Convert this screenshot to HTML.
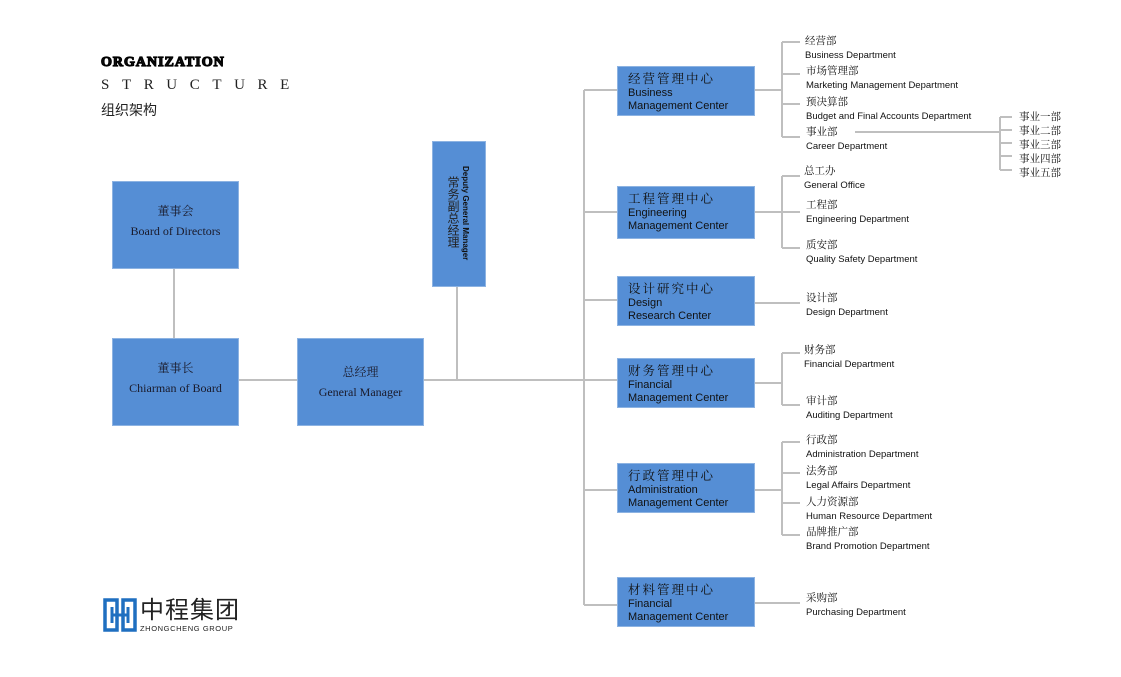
<!DOCTYPE html>
<html><head><meta charset="utf-8"><style>
body{margin:0;background:#fff;width:1121px;height:677px;overflow:hidden;position:relative;font-family:"Liberation Sans","Noto Sans CJK SC",sans-serif}
.t{position:absolute;white-space:nowrap;color:#111}
.box{position:absolute;background:#558ed5;border:1px solid #8db3e2;box-sizing:border-box}
.c{font-family:"Liberation Serif","Noto Serif CJK SC",serif;text-align:center;color:#1a1a2a;font-size:12px;line-height:20px}
.ct{position:absolute;left:10px;top:5px;font-size:11px;line-height:13px;color:#111}
.ct b{font-weight:normal;font-size:12.5px;letter-spacing:2px;font-family:"Noto Serif CJK SC",serif}
.d{position:absolute;font-size:9.5px;line-height:14px;color:#111}
.d span{font-family:"Noto Serif CJK SC",serif;font-size:10.5px}
</style></head><body>
<svg width="1121" height="677" style="position:absolute;left:0;top:0" fill="none" stroke="#bfbfbf" stroke-width="2">
<path d="M174 268V338M238 380H297M423 380H584M457 286V380"/>
<path d="M584 90V605M584 90H617M584 212H617M584 300H617M584 380H617M584 490H617M584 605H617"/>
<path d="M754 90H782M782 42V137M782 42H800M782 74H800M782 104H800M782 137H800"/>
<path d="M855 132H1000M1000 117V170M1000 117H1012M1000 130H1012M1000 143H1012M1000 156H1012M1000 170H1012"/>
<path d="M754 212H782M782 176V248M782 176H800M782 212H800M782 248H800"/>
<path d="M754 303H800"/>
<path d="M754 383H782M782 353V405M782 353H800M782 405H800"/>
<path d="M754 490H782M782 442V535M782 442H800M782 473H800M782 503H800M782 535H800"/>
<path d="M754 603H800"/>
</svg>
<div class="t" style="left:101px;top:55px;font-family:'Liberation Serif',serif;font-weight:900;font-size:14px;letter-spacing:1px;-webkit-text-stroke:1.2px #000">ORGANIZATION</div>
<div class="t" style="left:101px;top:77px;font-family:'Liberation Serif',serif;font-size:15px;letter-spacing:12.6px;color:#222">STRUCTURE</div>
<div class="t" style="left:101px;top:100px;font-size:14px;color:#222;font-family:'Noto Sans CJK SC',sans-serif">组织架构</div>

<div class="box c" style="left:112px;top:181px;width:127px;height:88px;padding-top:19px">董事会<br>Board of Directors</div>
<div class="box c" style="left:112px;top:338px;width:127px;height:88px;padding-top:19px">董事长<br>Chiarman of Board</div>
<div class="box c" style="left:297px;top:338px;width:127px;height:88px;padding-top:23px">总经理<br>General Manager</div>
<div class="box" style="left:432px;top:141px;width:54px;height:146px">
 <div style="position:absolute;left:13px;top:34px;writing-mode:vertical-rl;font-family:'Noto Sans CJK SC',sans-serif;font-size:12px;line-height:14px;color:#222">常务副总经理</div>
 <div style="position:absolute;left:27px;top:24px;writing-mode:vertical-rl;font-size:8px;font-weight:bold;line-height:10px;color:#111">Deputy General Manager</div>
</div>

<div class="box" style="left:617px;top:66px;width:138px;height:50px"><div class="ct"><b>经营管理中心</b><br>Business<br>Management Center</div></div>
<div class="box" style="left:617px;top:186px;width:138px;height:53px"><div class="ct"><b>工程管理中心</b><br>Engineering<br>Management Center</div></div>
<div class="box" style="left:617px;top:276px;width:138px;height:50px"><div class="ct"><b>设计研究中心</b><br>Design<br>Research Center</div></div>
<div class="box" style="left:617px;top:358px;width:138px;height:50px"><div class="ct"><b>财务管理中心</b><br>Financial<br>Management Center</div></div>
<div class="box" style="left:617px;top:463px;width:138px;height:50px"><div class="ct"><b>行政管理中心</b><br>Administration<br>Management Center</div></div>
<div class="box" style="left:617px;top:577px;width:138px;height:50px"><div class="ct"><b>材料管理中心</b><br>Financial<br>Management Center</div></div>

<div class="d" style="left:805px;top:34px"><span>经营部</span><br>Business Department</div>
<div class="d" style="left:806px;top:64px"><span>市场管理部</span><br>Marketing Management Department</div>
<div class="d" style="left:806px;top:95px"><span>预决算部</span><br>Budget and Final Accounts Department</div>
<div class="d" style="left:806px;top:125px"><span>事业部</span><br>Career Department</div>
<div class="d" style="left:1019px;top:110px;line-height:13px"><span>事业一部<br>事业二部<br>事业三部<br>事业四部<br>事业五部</span></div>
<div class="d" style="left:804px;top:164px"><span>总工办</span><br>General Office</div>
<div class="d" style="left:806px;top:198px"><span>工程部</span><br>Engineering Department</div>
<div class="d" style="left:806px;top:238px"><span>质安部</span><br>Quality Safety Department</div>
<div class="d" style="left:806px;top:291px"><span>设计部</span><br>Design Department</div>
<div class="d" style="left:804px;top:343px"><span>财务部</span><br>Financial Department</div>
<div class="d" style="left:806px;top:394px"><span>审计部</span><br>Auditing Department</div>
<div class="d" style="left:806px;top:433px"><span>行政部</span><br>Administration Department</div>
<div class="d" style="left:806px;top:464px"><span>法务部</span><br>Legal Affairs Department</div>
<div class="d" style="left:806px;top:495px"><span>人力资源部</span><br>Human Resource Department</div>
<div class="d" style="left:806px;top:525px"><span>品牌推广部</span><br>Brand Promotion Department</div>
<div class="d" style="left:806px;top:591px"><span>采购部</span><br>Purchasing Department</div>

<svg width="34" height="34" style="position:absolute;left:103px;top:598px" fill="none" stroke="#1f6fc0" stroke-width="3.5">
<path d="M2 2H14V32H2Z"/><path d="M20 2H32V32H20Z"/><path d="M9 9V25M25 9V25M9 17H25" stroke-width="3"/>
</svg>
<div class="t" style="left:140px;top:594px;font-family:'Noto Sans CJK SC',sans-serif;font-size:24px;line-height:28px;letter-spacing:1px;color:#222">中程集团</div>
<div class="t" style="left:140px;top:624px;font-size:7.5px;letter-spacing:0.6px;color:#222">ZHONGCHENG GROUP</div>
</body></html>
